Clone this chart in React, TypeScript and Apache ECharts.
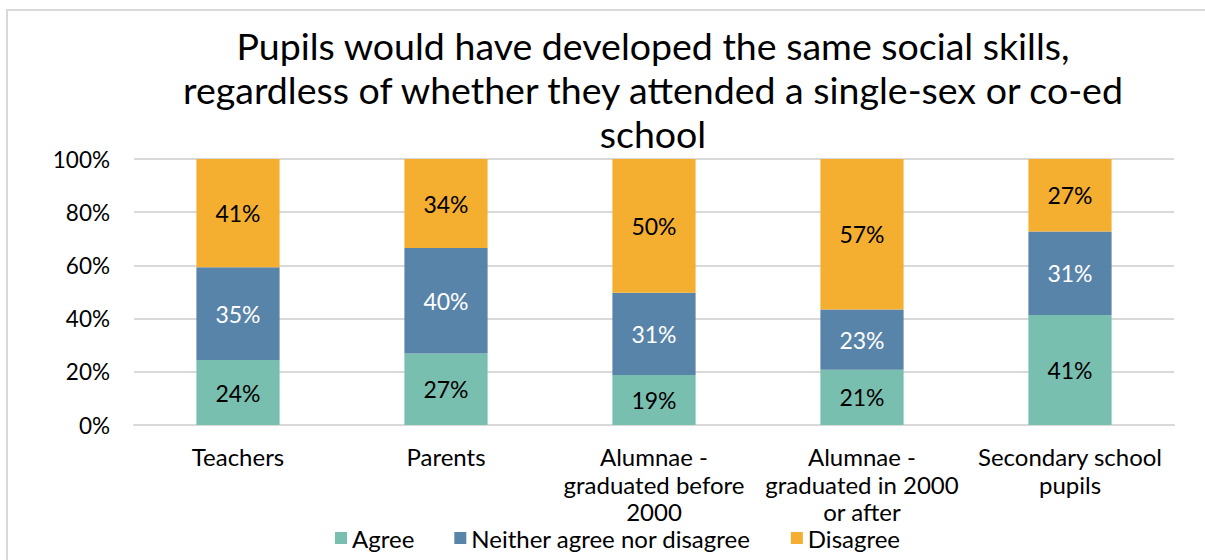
import React, { useEffect, useRef } from "react";
import * as echarts from "echarts";

const categories = [
  "Teachers",
  "Parents",
  "Alumnae -\ngraduated before\n2000",
  "Alumnae -\ngraduated in 2000\nor after",
  "Secondary school\npupils",
];
const agree = [24.4, 26.9, 18.8, 20.8, 41.4];
const neither = [34.9, 39.6, 30.9, 22.6, 31.3];
const disagree = [40.7, 33.5, 50.3, 56.6, 27.3];
const seriesNames = ["Agree", "Neither agree nor disagree", "Disagree"];
const yTicks = [0, 20, 40, 60, 80, 100];
const titleText =
  "Pupils would have developed the same social skills,\nregardless of whether they attended a single-sex or co-ed\nschool";

const FONT = "Lato";
const colors = ["#79bfb0", "#5984aa", "#f5af30"];
const labelColors = ["#000000", "#ffffff", "#000000"];

export default function App() {
  const ref = useRef<HTMLDivElement>(null);
  useEffect(() => {
    document.body.style.margin = "0";
    if (!ref.current) return;
    const chart = echarts.init(ref.current, null, { renderer: "svg" });
    const data = [agree, neither, disagree];
    chart.setOption({
      animation: false,
      backgroundColor: "#ffffff",
      textStyle: { fontFamily: FONT },
      graphic: [
        {
          type: "rect",
          shape: { x: 7, y: 10, width: 1400, height: 800 },
          style: { fill: "none", stroke: "#d9d9d9", lineWidth: 2 },
          silent: true,
          z: -1,
        },
      ],
      title: {
        text: titleText,
        left: 648,
        textAlign: "center",
        top: 18,
        textStyle: {
          fontFamily: FONT,
          fontSize: 37.5,
          fontWeight: "normal",
          color: "#000000",
          lineHeight: 44,
        },
      },
      legend: {
        left: 335,
        top: 526,
        padding: 0,
        itemWidth: 12,
        itemHeight: 12,
        itemGap: 40,
        icon: "rect",
        data: seriesNames,
        textStyle: { fontFamily: FONT, fontSize: 24, color: "#000000", lineHeight: 20 },
      },
      grid: { left: 134, right: 31, top: 159, bottom: 135, containLabel: false },
      xAxis: {
        type: "category",
        data: categories,
        axisTick: { show: false },
        axisLine: { lineStyle: { color: "#d9d9d9", width: 2 } },
        axisLabel: {
          interval: 0,
          margin: 18,
          fontFamily: FONT,
          fontSize: 24,
          lineHeight: 27.5,
          color: "#000000",
        },
      },
      yAxis: {
        type: "value",
        min: yTicks[0],
        max: yTicks[yTicks.length - 1],
        interval: 20,
        axisLine: { show: false },
        axisTick: { show: false },
        splitLine: { lineStyle: { color: "#d9d9d9", width: 2 } },
        axisLabel: {
          margin: 24,
          fontFamily: FONT,
          fontSize: 22.5,
          color: "#000000",
          formatter: "{value}%",
        },
      },
      series: seriesNames.map((name, i) => ({
        name,
        type: "bar",
        stack: "total",
        barWidth: "40%",
        data: data[i],
        itemStyle: { color: colors[i] },
        label: {
          show: true,
          position: "inside",
          fontFamily: FONT,
          fontSize: 23,
          color: labelColors[i],
          formatter: (p: any) => Math.round(p.value) + "%",
        },
      })),
    });
    return () => chart.dispose();
  }, []);
  return <div ref={ref} style={{ width: 1205, height: 560 }} />;
}
